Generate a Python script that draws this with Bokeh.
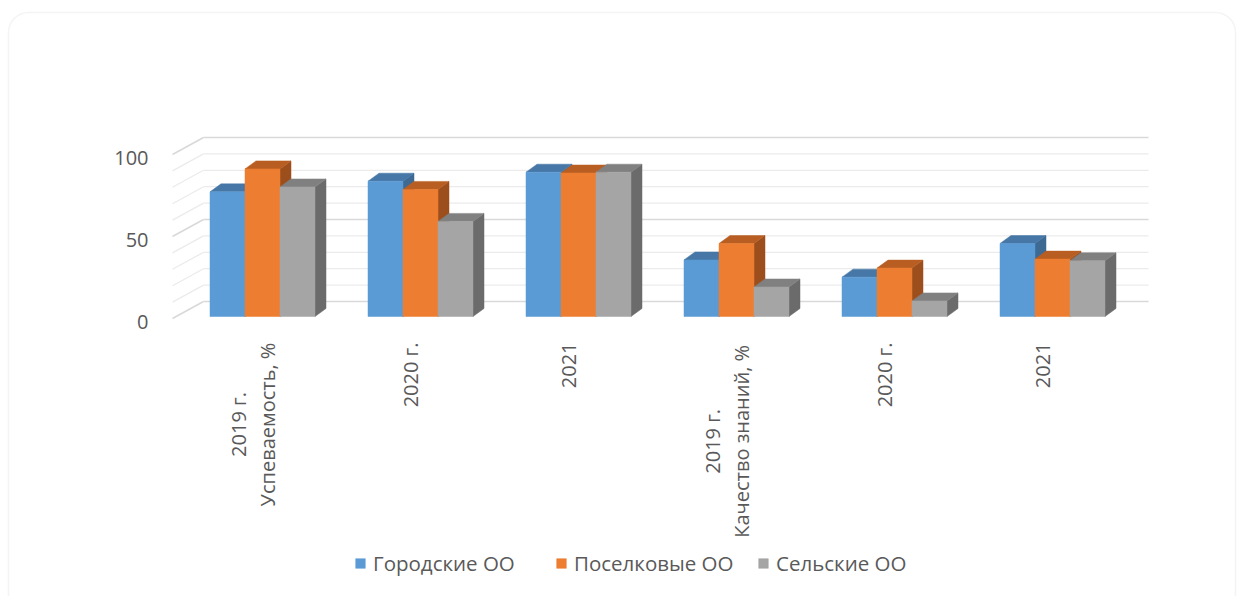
import math
from bokeh.plotting import figure
from bokeh.models import Range1d, BoxAnnotation, Legend, LegendItem
from bokeh.core.properties import value
from bokeh.embed import file_html
from bokeh.resources import INLINE

# ---------------- data ----------------
cat_line1 = ["2019 г.", "2020 г.", "2021", "2019 г.", "2020 г.", "2021"]
cat_line2 = ["Успеваемость, %", "", "", "Качество знаний, %", "", ""]
series_names = ["Городские ОО", "Поселковые ОО", "Сельские ОО"]
gorodskie = [76, 82.5, 88, 34.5, 24, 44.5]
poselkovye = [90, 77.5, 87.5, 44.5, 29.5, 35]
selskie = [79, 58, 88, 18, 9.5, 34]
y_ticks = [0, 50, 100]
grid_values = list(range(0, 101, 10))

series_values = [gorodskie, poselkovye, selskie]
front_colors = ["#5B9BD5", "#ED7D31", "#A5A5A5"]
top_colors = ["#4677A6", "#B95E22", "#808080"]
side_colors = ["#3D6993", "#9C4E1C", "#6B6B6B"]
FONT = "Open Sans"
TXT = "#595959"

# ---------------- layout (pixels) ----------------
W, H = 1243, 596
g0_px, step_px = 262.0, 158.0       # first group centre, group spacing
bar_px = 35.0
ppu = 1.64                          # pixels per value unit
base_px = 316.0                     # canvas y of value 0 at the bars' front

def ux(px):  # horizontal pixel length -> x units
    return px / step_px

def uy(px):  # vertical pixel length -> y units
    return px / ppu

def cx(canvas_x):
    return (canvas_x - g0_px) / step_px

def cy(canvas_y):
    return (base_px - canvas_y) / ppu

p = figure(width=W, height=H, output_backend="svg", toolbar_location=None,
           x_range=Range1d(cx(0), cx(W)), y_range=Range1d(cy(H), cy(0)),
           x_axis_location=None, y_axis_location=None, min_border=0)
p.grid.visible = False
p.outline_line_color = None
p.background_fill_color = "white"

# ---------------- walls / gridlines ----------------
wall_left = cx(203)
wall_right = cx(1148)
side_front = cx(172)
wall_dy = uy(15)
front_off = uy(2)

minor = [v for v in grid_values if v not in y_ticks]
for vals, col, lw in [(minor, "#EBEBEB", 1.3), (y_ticks, "#D9D9D9", 1.6)]:
    p.segment(x0=[wall_left] * len(vals), x1=[wall_right] * len(vals),
              y0=[v + wall_dy for v in vals], y1=[v + wall_dy for v in vals],
              line_color=col, line_width=lw)
    p.segment(x0=[side_front] * len(vals), x1=[wall_left] * len(vals),
              y0=[v - front_off for v in vals], y1=[v + wall_dy for v in vals],
              line_color=col, line_width=lw)

# ---------------- 3D bars ----------------
bw = ux(bar_px)
ddx = ux(11)
ddy = uy(8)
front_renderers = []
for k, vals in enumerate(series_values):
    off = (k - 1) * bw
    tx, ty, sx, sy, xc = [], [], [], [], []
    for i, v in enumerate(vals):
        L = i + off - bw / 2
        R = L + bw
        xc.append(i + off)
        tx.append([L, R, R + ddx, L + ddx])
        ty.append([v, v, v + ddy, v + ddy])
        sx.append([R, R + ddx, R + ddx, R])
        sy.append([0, ddy, v + ddy, v])
    p.patches(sx, sy, fill_color=side_colors[k], line_color=side_colors[k], line_width=0.5)
    p.patches(tx, ty, fill_color=top_colors[k], line_color=top_colors[k], line_width=0.5)
    r = p.vbar(x=xc, top=vals, bottom=0, width=bw, fill_color=front_colors[k],
               line_color=front_colors[k], line_width=0.5)
    front_renderers.append(r)

# ---------------- value labels ----------------
p.text(x=[cx(148)] * len(y_ticks), y=[v - front_off - uy(3.5) for v in y_ticks],
       text=[str(v) for v in y_ticks], text_align="right", text_baseline="middle",
       text_font=value(FONT), text_font_size="20px", text_color=TXT)

# ---------------- category labels ----------------
LAB_FS = 20
single_x, single_t = [], []
dbl_x, dbl_y, dbl_t = [], [], []
for i, (a, b) in enumerate(zip(cat_line1, cat_line2)):
    if b:
        # two-line label: lines centred on each other, block ends at the top
        est_len = max(len(a), len(b)) * 0.56 * LAB_FS
        yc = cy(340 + est_len / 2)
        dbl_x += [i + ux(-24), i + ux(5)]
        dbl_y += [yc, yc]
        dbl_t += [a, b]
    else:
        single_x.append(i + ux(-10))
        single_t.append(a)
p.text(x=single_x, y=[cy(342)] * len(single_x), text=single_t, angle=math.pi / 2,
       text_align="right", text_baseline="middle",
       text_font=value(FONT), text_font_size=f"{LAB_FS}px", text_color=TXT)
p.text(x=dbl_x, y=dbl_y, text=dbl_t, angle=math.pi / 2,
       text_align="center", text_baseline="middle",
       text_font=value(FONT), text_font_size=f"{LAB_FS}px", text_color=TXT)

# ---------------- legend ----------------
legend_x = [354, 555, 757]
for name, r, lx in zip(series_names, front_renderers, legend_x):
    lg = Legend(items=[LegendItem(label=name, renderers=[r])],
                orientation="horizontal", location=(lx, 19),
                glyph_width=12, glyph_height=12, label_standoff=7, spacing=0,
                padding=0, margin=0, border_line_color=None, background_fill_alpha=0,
                label_text_font=FONT, label_text_font_size="20.5px", label_text_color=TXT)
    p.add_layout(lg)

# ---------------- chart border ----------------
p.add_layout(BoxAnnotation(left=cx(8), right=cx(1235), top=cy(12), bottom=cy(H + 40),
                           fill_alpha=0, line_color="#D9D9D9", line_width=1.5,
                           border_radius=20))

open("out.html", "w").write(file_html(p, INLINE))
